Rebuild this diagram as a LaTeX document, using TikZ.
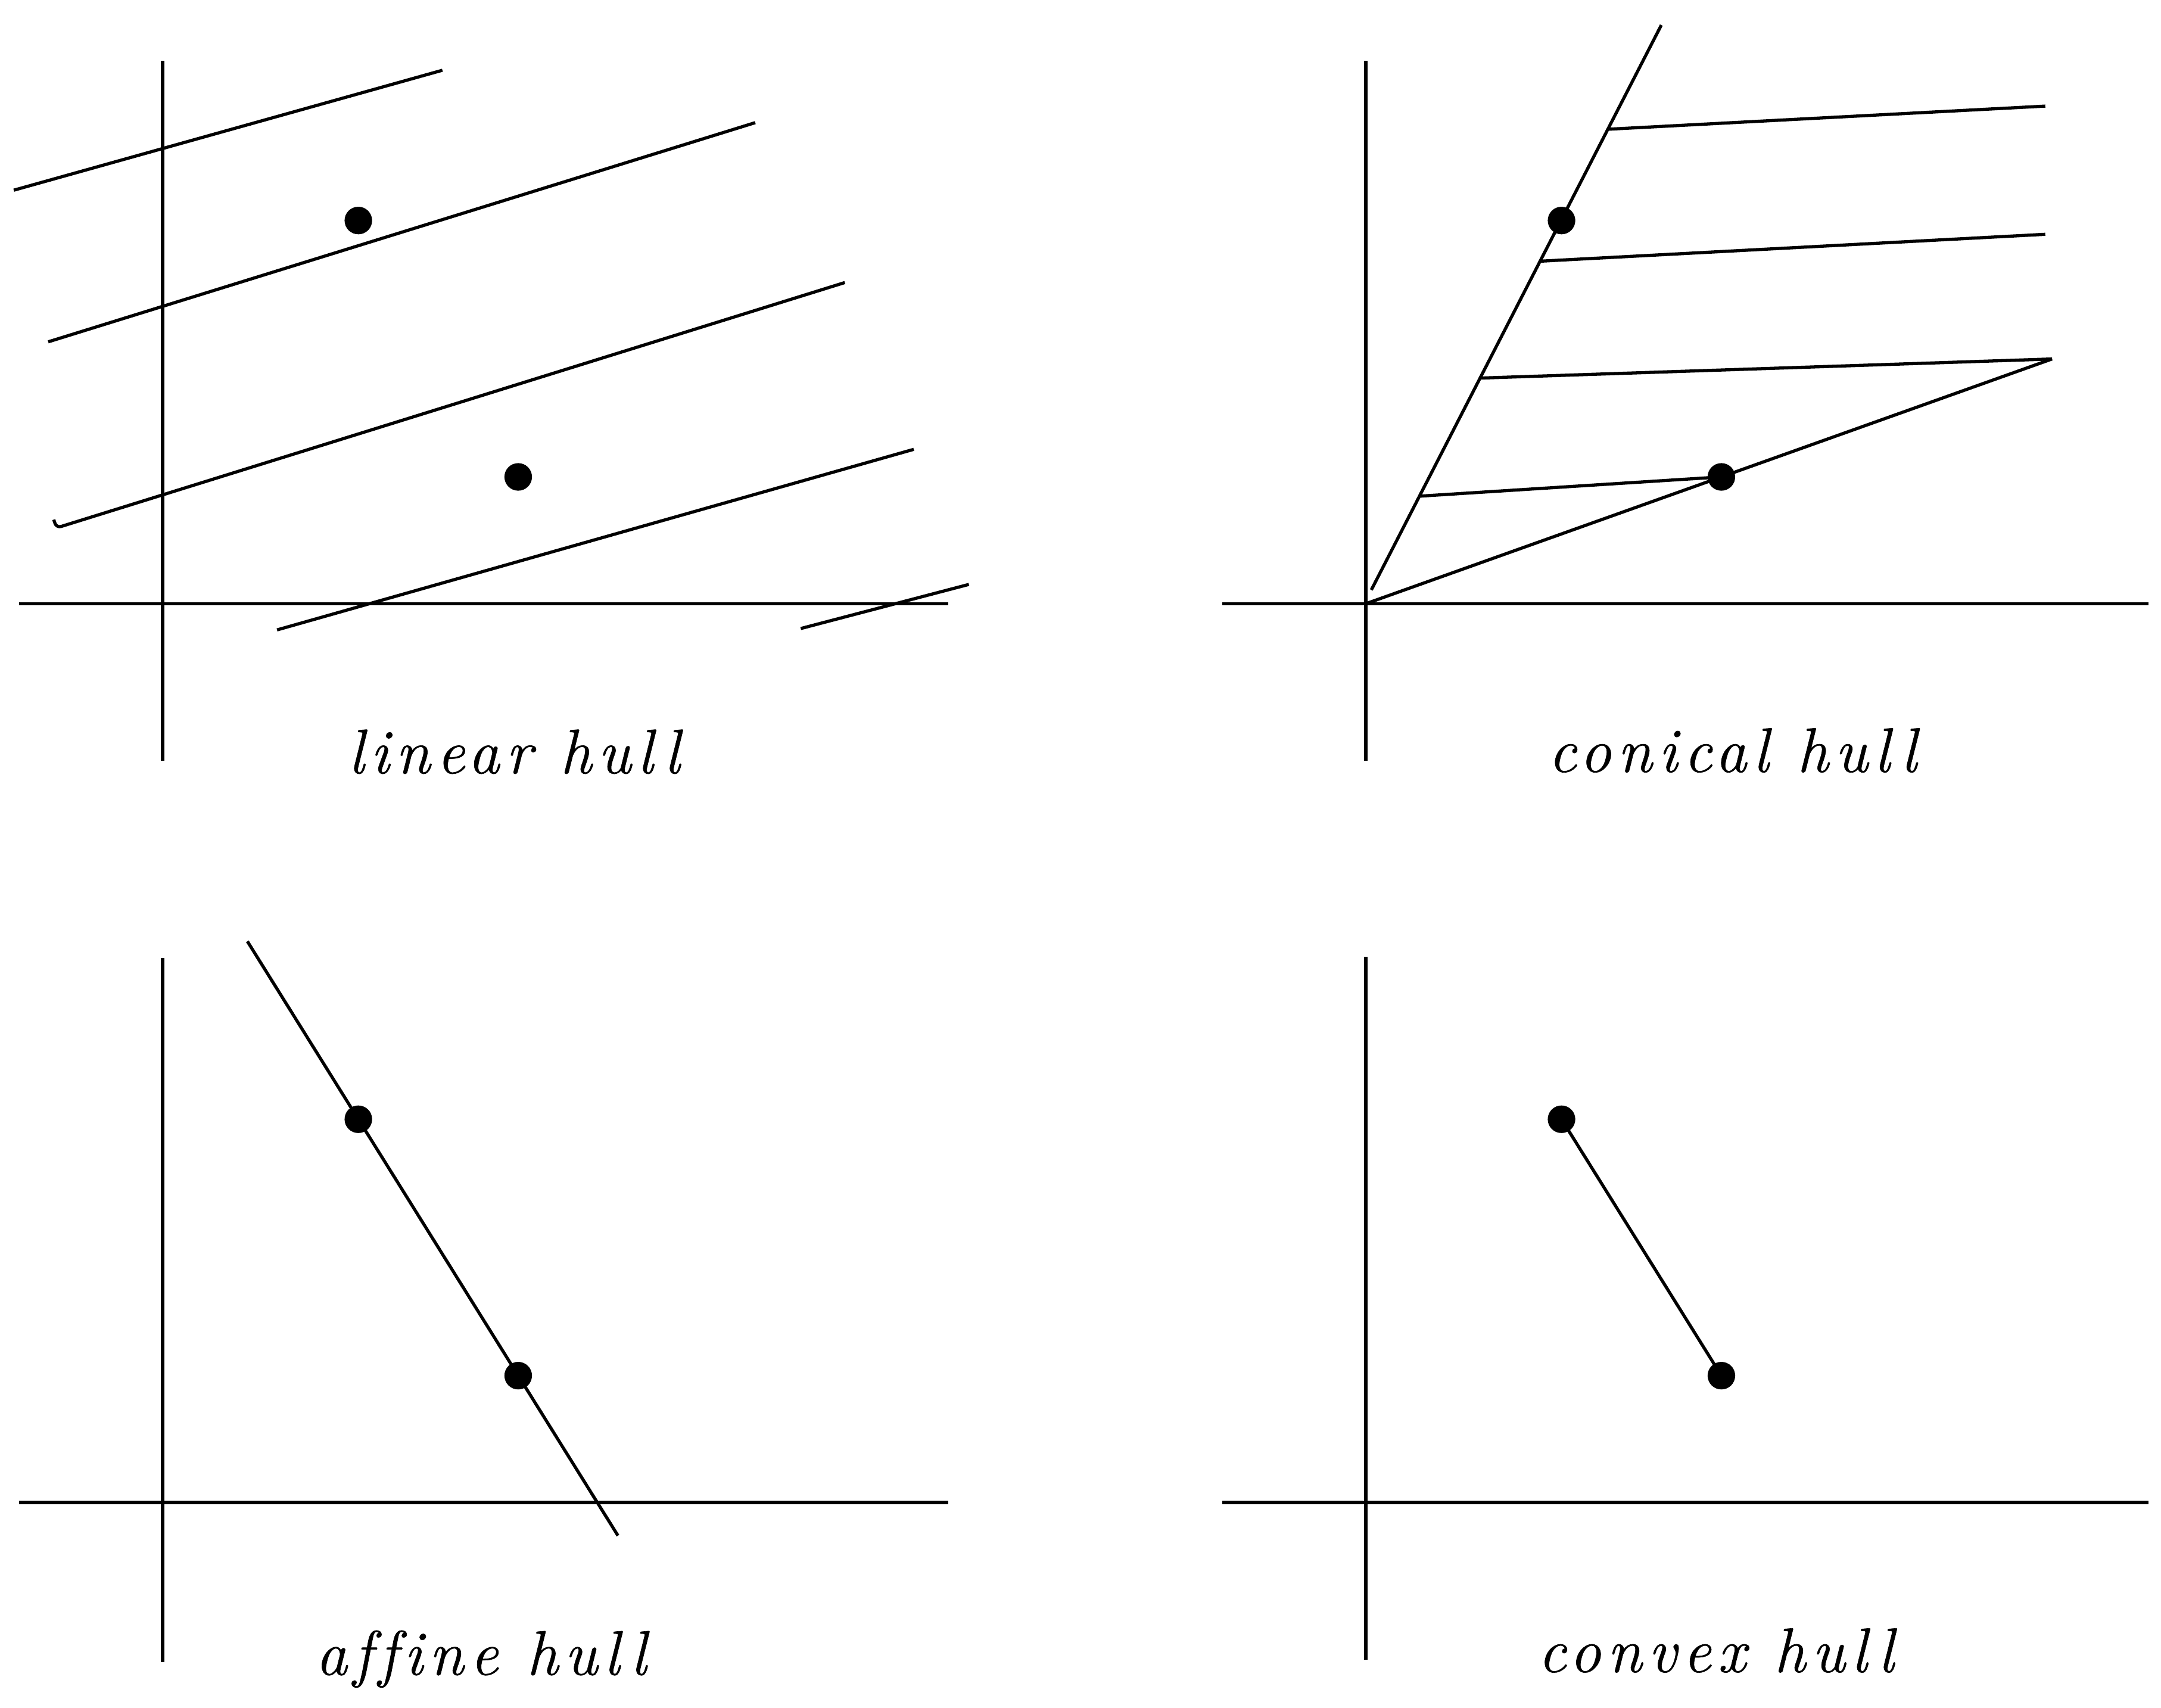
\documentclass[tikz,border=0pt]{standalone}
\usepackage{fontspec}
\usepackage{tikz}
\usetikzlibrary{calc}
\newfontfamily\hullfont{Latin Modern Roman}[LetterSpace=10.0,Ligatures=CommonOff,FakeBold=0.6]

\begin{document}
\begin{tikzpicture}[
  axis/.style={line width=0.7pt},
  hull/.style={line width=0.65pt},
  caption/.style={anchor=base,font=\hullfont\fontsize{13}{15}\selectfont\itshape}]
\useasboundingbox (0,0) rectangle (15.68,12.39);

% linear hull
\begin{scope}[shift={(1.18,8.01)}]
\coordinate (lp1) at (1.42,2.78);
\coordinate (lp2) at (2.58,0.92);
\draw[axis] (0,-1.14)--(0,3.94);
\draw[axis] (-1.04,0)--(5.70,0);
\draw[hull] (-1.08,3.00)--(2.03,3.87);
\draw[hull] (-0.83,1.90)--(4.30,3.49);
\draw[hull,rounded corners=1pt] (-0.79,0.61)--(-0.77,0.55)--(4.95,2.33);
\draw[hull] (0.83,-0.19)--(5.45,1.12);
\draw[hull] (4.63,-0.18)--(5.85,0.14);
\fill (lp1) circle[radius=0.1];
\fill (lp2) circle[radius=0.1];
\node[caption] (lin) at (2.55,-1.23) {linear hull};
\end{scope}

% conical hull
\begin{scope}[shift={(9.91,8.01)}]
\coordinate (co) at (0,0);
\coordinate (cp1) at (1.42,2.78);
\coordinate (cp2) at (2.58,0.92);
\coordinate (cr1) at ($(co)!1.51!(cp1)$);
\coordinate (cr2) at ($(co)!1.93!(cp2)$);
\draw[axis] (0,-1.14)--(0,3.94);
\draw[axis] (-1.04,0)--(5.68,0);
\draw[hull] (0.04,0.1)--(cr1);
\draw[hull] (co)--(cr2);
\foreach \t/\y in {0.820/3.61,0.592/2.68}
  \draw[hull] ($(co)!\t!(cr1)$)--(4.93,\y);
\draw[hull] ($(co)!0.390!(cr1)$)--(cr2);
\draw[hull] ($(co)!0.186!(cr1)$)--(cp2);
\fill (cp1) circle[radius=0.1];
\fill (cp2) circle[radius=0.1];
\node[caption] (con) at (2.66,-1.22) {conical hull};
\end{scope}

% affine hull
\begin{scope}[shift={(1.18,1.49)}]
\coordinate (ap1) at (1.42,2.78);
\coordinate (ap2) at (2.58,0.92);
\draw[axis] (0,-1.16)--(0,3.95);
\draw[axis] (-1.04,0)--(5.70,0);
\draw[hull] ($(ap1)!-0.694!(ap2)$)--($(ap1)!1.624!(ap2)$);
\fill (ap1) circle[radius=0.1];
\fill (ap2) circle[radius=0.1];
\node[caption] (aff) at (2.31,-1.25) {affine hull};
\end{scope}

% convex hull
\begin{scope}[shift={(9.91,1.49)}]
\coordinate (vp1) at (1.42,2.78);
\coordinate (vp2) at (2.58,0.92);
\draw[axis] (0,-1.14)--(0,3.96);
\draw[axis] (-1.04,0)--(5.68,0);
\draw[hull] (vp1)--(vp2);
\fill (vp1) circle[radius=0.1];
\fill (vp2) circle[radius=0.1];
\node[caption] (cvx) at (2.54,-1.23) {convex hull};
\end{scope}
\end{tikzpicture}
\end{document}
